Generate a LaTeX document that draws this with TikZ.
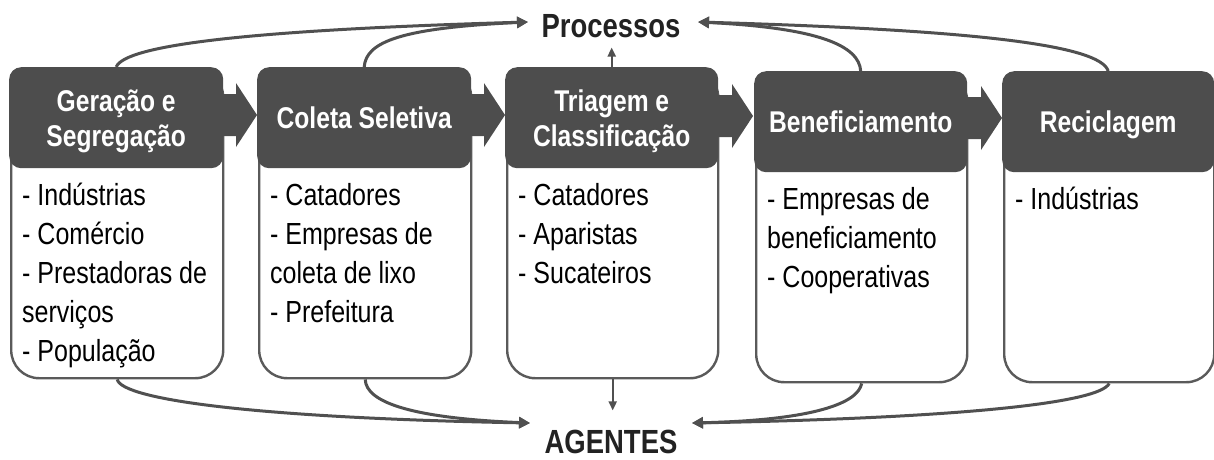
\documentclass[tikz,border=0pt]{standalone}
\usepackage{fontspec}
\setmainfont{Liberation Sans}[FakeStretch=0.82]
\usetikzlibrary{arrows.meta}
\definecolor{hdr}{HTML}{4D4D4D}
\definecolor{brd}{HTML}{5A5A5A}
\definecolor{lnk}{HTML}{505050}
\definecolor{ttl}{HTML}{222222}
\begin{document}
\begin{tikzpicture}[x=1pt,y=-1pt,
  bodybox/.style={draw=brd, line width=2.4pt, fill=white, rounded corners=28pt, anchor=north west, inner sep=0pt},
  hdrbox/.style={fill=hdr, rounded corners=12pt, minimum height=101pt, anchor=north west, inner sep=0pt, text=white, text depth=0pt, font=\fontsize{30}{35}\selectfont\bfseries, align=center},
  bodytext/.style={anchor=base west, inner sep=0pt, align=left, font=\fontsize{30.5}{39}\selectfont},
  chevron/.pic={\fill[hdr] (0,-21) -- (14,-21) -- (14,-32) -- (35,0) -- (14,32) -- (14,21) -- (0,21) -- cycle;},
  link/.style={draw=lnk, line width=3pt, -{Triangle[length=11pt,width=11pt]}},
  small/.style={draw=lnk, line width=2pt, -{Triangle[length=9pt,width=8pt]}},
  title/.style={font=\fontsize{33.5}{40}\selectfont\bfseries, text=ttl, inner sep=0pt}
]
\useasboundingbox (0,0) rectangle (1214,459);

% bodies
\node[bodybox, minimum width=212pt, minimum height=309pt] (b1) at (10,68) {};
\node[bodybox, minimum width=212pt, minimum height=309pt] (b2) at (258,68) {};
\node[bodybox, minimum width=211pt, minimum height=309pt] (b3) at (506,68) {};
\node[bodybox, minimum width=211pt, minimum height=309pt] (b4) at (755,72) {};
\node[bodybox, minimum width=210pt, minimum height=309pt] (b5) at (1003,72) {};

% headers
\node[hdrbox, minimum width=214pt] (h1) at (9,67) {Geração e\\Segregação};
\node[hdrbox, minimum width=214pt] (h2) at (257,67) {Coleta Seletiva};
\node[hdrbox, minimum width=213pt] (h3) at (505,67) {Triagem e\\Classificação};
\node[hdrbox, minimum width=213pt] (h4) at (754,71) {Beneficiamento};
\node[hdrbox, minimum width=212pt] (h5) at (1002,71) {Reciclagem};

% chevrons
\pic at (222,115) {chevron};
\pic at (470,115) {chevron};
\pic at (718,116) {chevron};
\pic at (967,118) {chevron};

% body texts (base anchor = last line)
\node[bodytext] (t1) at (22,361) {- Indústrias\\- Comércio\\- Prestadoras de\\serviços\\- População};
\node[bodytext] (t2) at (270,322) {- Catadores\\- Empresas de\\coleta de lixo\\- Prefeitura};
\node[bodytext] (t3) at (518,283) {- Catadores\\- Aparistas\\- Sucateiros};
\node[bodytext] (t4) at (767,287) {- Empresas de\\beneficiamento\\- Cooperativas};
\node[bodytext] (t5) at (1015,209) {- Indústrias};

% titles
\node[title, anchor=base] (proc) at (611,37) {Processos};
\node[title, anchor=base] (ag) at (611,453) {AGENTES};
\coordinate (pl) at (528,22);
\coordinate (pr) at (698,22);
\coordinate (al) at (530,423);
\coordinate (ar) at (692,423);

% connectors to Processos
\draw[link] (h1.north) .. controls (125,45) and (250,30) .. (pl);
\draw[link] (h2.north) .. controls (366,42) and (400,28) .. (pl);
\draw[link] (h4.north) .. controls (859,46) and (820,28) .. (pr);
\draw[link] (h5.north) .. controls (1100,45) and (975,30) .. (pr);
\draw[small, shorten >=10pt] (h3.north) -- (h3.north |- proc.south);

% connectors to AGENTES
\draw[link] (b1.south) .. controls (122,400) and (260,418) .. (al);
\draw[link] (b2.south) .. controls (366,402) and (410,418) .. (al);
\draw[link] (b4.south) .. controls (858,403) and (815,420) .. (ar);
\draw[link] (b5.south) .. controls (1100,403) and (960,418) .. (ar);
\draw[small, shorten >=19pt] (b3.south) -- (b3.south |- ag.north);
\end{tikzpicture}
\end{document}
